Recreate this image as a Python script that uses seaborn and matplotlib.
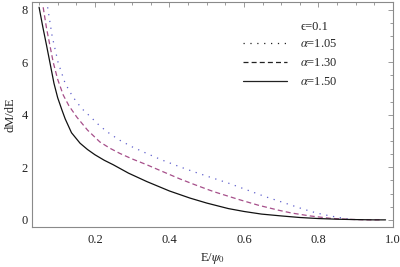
import matplotlib
matplotlib.use('Agg')
import numpy as np
import pandas as pd
import matplotlib.pyplot as plt
from matplotlib.lines import Line2D
from matplotlib.ticker import MultipleLocator
import seaborn as sns

# curvas (E/psi0, dM/dE)
E_105 = [0.073, 0.085, 0.101, 0.12, 0.14, 0.164, 0.19, 0.213, 0.24, 0.267, 0.30, 0.339, 0.38,
         0.428, 0.468, 0.504, 0.558, 0.612, 0.656, 0.71, 0.759, 0.795, 0.831, 0.867, 0.893]
M_105 = [8.1, 7.0, 6.0, 5.2, 4.7, 4.25, 3.9, 3.58, 3.28, 3.03, 2.78, 2.53, 2.28,
         2.02, 1.82, 1.65, 1.4, 1.12, 0.89, 0.64, 0.41, 0.26, 0.15, 0.06, 0.0]

E_130 = [0.061, 0.07, 0.088, 0.1, 0.115, 0.13, 0.151, 0.18, 0.213, 0.24, 0.267, 0.30, 0.339,
         0.38, 0.428, 0.468, 0.504, 0.522, 0.585, 0.638, 0.692, 0.728, 0.777, 0.831, 0.88, 0.93, 0.97]
M_130 = [8.1, 7.3, 6.0, 5.35, 4.75, 4.35, 3.92, 3.42, 2.97, 2.73, 2.53, 2.32, 2.1,
         1.85, 1.56, 1.34, 1.15, 1.06, 0.78, 0.56, 0.37, 0.26, 0.15, 0.06, 0.02, 0.0, 0.0]

E_150 = [0.05, 0.06, 0.07, 0.079, 0.09, 0.1, 0.111, 0.12, 0.137, 0.16, 0.18, 0.2, 0.225, 0.249,
         0.29, 0.339, 0.4, 0.455, 0.5, 0.558, 0.6, 0.647, 0.7, 0.75, 0.8, 0.85, 0.9, 0.95, 0.98]
M_150 = [8.1, 7.35, 6.65, 6.0, 5.2, 4.65, 4.2, 3.85, 3.32, 2.92, 2.68, 2.48, 2.27, 2.1,
         1.78, 1.46, 1.1, 0.83, 0.64, 0.43, 0.32, 0.22, 0.15, 0.09, 0.05, 0.025, 0.01, 0.0, 0.0]

rotulos = [r'$\alpha$=1.05', r'$\alpha$=1.30', r'$\alpha$=1.50']
cores = ['#5f5fcc', '#a64f8a', '#111111']
estilos = [(0, (1, 4.5)), (0, (4, 2.5)), '-']

sns.set_style('white')
plt.rcParams['font.family'] = ['Liberation Serif', 'DejaVu Serif']
plt.rcParams['mathtext.fontset'] = 'stix'

fig = plt.figure(figsize=(4, 2.67), dpi=100)
ax = fig.add_axes([0.08, 0.15, 0.9025, 0.8425])

series = [(E_105, M_105), (E_130, M_130), (E_150, M_150)]
for (x, y), c, ls in zip(series, cores, estilos):
    df = pd.DataFrame({'E': x, 'M': y})
    sns.lineplot(data=df, x='E', y='M', ax=ax, color=c, lw=0.9, legend=False)
    ax.lines[-1].set_linestyle(ls)

ax.set_xlim(0.031, 1.0)
ax.set_ylim(-0.27, 8.3)
ax.xaxis.set_major_locator(MultipleLocator(0.2))
ax.xaxis.set_minor_locator(MultipleLocator(0.05))
ax.yaxis.set_major_locator(MultipleLocator(2))
ax.yaxis.set_minor_locator(MultipleLocator(0.5))
ax.set_xticks([0.2, 0.4, 0.6, 0.8, 1.0])
ax.set_xticklabels(['0.2', '0.4', '0.6', '0.8', '1.0'])

cinza = '#8a8a8a'
for s in ax.spines.values():
    s.set_color(cinza)
    s.set_linewidth(0.8)
ax.tick_params(which='both', direction='in', top=True, right=True, color=cinza, width=0.6,
               labelsize=9, labelcolor='#222222')
ax.tick_params(which='major', length=3.5)
ax.tick_params(which='minor', length=2)
ax.tick_params(axis='x', pad=5)
ax.tick_params(axis='y', pad=3)

ax.set_xlabel(r'E/$\psi_0$', fontsize=9, color='#222222', labelpad=4)
ax.set_ylabel('dM/dE', fontsize=9, color='#222222', labelpad=4)

handles = [Line2D([], [], color='#222222', lw=0.9, linestyle=ls) for ls in estilos]
ax.legend(handles, rotulos, loc='upper left', bbox_to_anchor=(0.6075, 0.857),
          bbox_transform=fig.transFigure, frameon=False, fontsize=9, borderpad=0,
          borderaxespad=0, handlelength=3.5, handletextpad=1.05, labelspacing=0.55)
fig.text(0.787, 0.898, '\u03f5=0.1', fontsize=9, ha='center', va='center', color='#222222')

fig.savefig('out.png', dpi=100)
